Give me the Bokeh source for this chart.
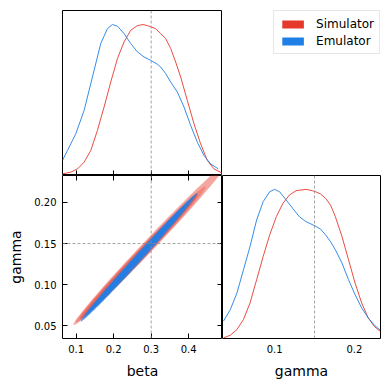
import numpy as np
from bokeh.plotting import figure
from bokeh.models import LinearAxis, FixedTicker, Range1d, Span, Legend, LegendItem
from bokeh.layouts import gridplot
from bokeh.embed import file_html
from bokeh.resources import INLINE

RED = "#E6392B"
BLUE = "#1F7FE6"
FONT = "DejaVu Sans"

# ---- data ----
beta_true = 0.3
gamma_true = 0.15

beta_tick_vals = [0.1, 0.2, 0.3, 0.4]
beta_tick_labels = ["0.1", "0.2", "0.3", "0.4"]
gamma_tick_vals = [0.05, 0.10, 0.15, 0.20]
gamma_tick_labels = ["0.05", "0.10", "0.15", "0.20"]
gamma_m_tick_vals = [0.1, 0.2]
gamma_m_tick_labels = ["0.1", "0.2"]

# beta marginal (normalised density)
beta_emu_x = [0.0638, 0.0771, 0.0993, 0.1214, 0.1436, 0.1657, 0.1835, 0.1968, 0.2101, 0.2278,
              0.2455, 0.2633, 0.2810, 0.2987, 0.3165, 0.3253, 0.3386, 0.3520, 0.3697, 0.3874,
              0.4051, 0.4229, 0.4406, 0.4583, 0.4787]
beta_emu_d = [0.100, 0.166, 0.277, 0.431, 0.653, 0.874, 0.973, 1.000, 0.989, 0.940,
              0.874, 0.819, 0.785, 0.763, 0.737, 0.719, 0.675, 0.619, 0.553, 0.454,
              0.332, 0.221, 0.133, 0.077, 0.044]
beta_sim_x = [0.0638, 0.0860, 0.1037, 0.1214, 0.1392, 0.1569, 0.1746, 0.1923, 0.2101, 0.2278,
              0.2455, 0.2633, 0.2783, 0.2899, 0.2987, 0.3120, 0.3253, 0.3386, 0.3520, 0.3652,
              0.3785, 0.3962, 0.4140, 0.4317, 0.4494, 0.4672, 0.4894]
beta_sim_d = [0.011, 0.022, 0.044, 0.088, 0.166, 0.299, 0.454, 0.619, 0.774, 0.885,
              0.962, 0.993, 1.000, 0.993, 0.985, 0.973, 0.940, 0.907, 0.841, 0.752,
              0.653, 0.498, 0.343, 0.210, 0.100, 0.044, 0.015]

# gamma marginal (normalised density)
gamma_emu_x = [0.0358, 0.0444, 0.0527, 0.0609, 0.0691, 0.0774, 0.0856, 0.0938, 0.1000, 0.1062,
               0.1144, 0.1226, 0.1309, 0.1391, 0.1506, 0.1576, 0.1638, 0.1700, 0.1761, 0.1844,
               0.1926, 0.2008, 0.2091, 0.2173, 0.2255, 0.2325]
gamma_emu_d = [0.116, 0.194, 0.305, 0.461, 0.617, 0.795, 0.918, 0.984, 1.000, 0.984,
               0.929, 0.873, 0.817, 0.784, 0.755, 0.733, 0.695, 0.650, 0.595, 0.506,
               0.394, 0.294, 0.205, 0.138, 0.087, 0.056]
gamma_sim_x = [0.0358, 0.0444, 0.0527, 0.0609, 0.0691, 0.0774, 0.0856, 0.0938, 0.1021, 0.1103,
               0.1185, 0.1267, 0.1391, 0.1473, 0.1514, 0.1576, 0.1638, 0.1700, 0.1761, 0.1844,
               0.1926, 0.2008, 0.2091, 0.2173, 0.2255, 0.2325]
gamma_sim_d = [0.004, 0.022, 0.060, 0.127, 0.238, 0.394, 0.550, 0.695, 0.817, 0.906,
               0.962, 0.991, 1.000, 0.991, 0.984, 0.969, 0.940, 0.895, 0.817, 0.684,
               0.528, 0.372, 0.238, 0.138, 0.078, 0.047]

# 2D credible regions: (beta_lo, gamma_lo, beta_hi, gamma_hi, half-width in gamma)
sim_levels = [(0.093, 0.0515, 0.500, 0.246, 0.0102),
              (0.100, 0.0545, 0.445, 0.219, 0.0088),
              (0.110, 0.0585, 0.425, 0.210, 0.0076)]
sim_alphas = [0.45, 0.3, 0.45]
emu_levels = [(0.112, 0.0556, 0.423, 0.211, 0.0070),
              (0.120, 0.0600, 0.413, 0.206, 0.0056),
              (0.128, 0.0640, 0.390, 0.195, 0.0040)]
emu_alphas = [0.7, 0.6, 0.85]

BETA_RANGE = (0.0638, 0.49)
GAMMA_RANGE = (0.0346, 0.2327)
DENS_RANGE = (0.0, 1.093)


def region(lo_x, lo_y, hi_x, hi_y, h, n=120):
    t = np.linspace(0, 2 * np.pi, n)
    cx, cy = (lo_x + hi_x) / 2, (lo_y + hi_y) / 2
    ax, ay = (hi_x - lo_x) / 2, (hi_y - lo_y) / 2
    return cx + ax * np.cos(t), cy + ay * np.cos(t) + h * np.sin(t)


def base_fig(w, h, xr, yr, bl, br, bt, bb):
    p = figure(width=w, height=h, x_range=Range1d(*xr), y_range=Range1d(*yr),
               x_axis_location=None, y_axis_location=None, toolbar_location=None,
               output_backend="svg", min_border_left=bl, min_border_right=br,
               min_border_top=bt, min_border_bottom=bb)
    p.outline_line_color = "black"
    p.outline_line_width = 1
    p.background_fill_color = "white"
    p.border_fill_color = "white"
    p.xgrid.grid_line_color = None
    p.ygrid.grid_line_color = None
    return p


def style_axis(ax, ticks, labels=None, tick_in=5, show_labels=True):
    ax.ticker = FixedTicker(ticks=ticks)
    ax.major_tick_in = tick_in
    ax.major_tick_out = 0
    ax.major_tick_line_color = "black" if tick_in > 0 else None
    ax.minor_tick_line_color = None
    ax.axis_line_color = None
    if show_labels:
        ax.major_label_overrides = {t: l for t, l in zip(ticks, labels)}
        ax.major_label_text_font = FONT
        ax.major_label_text_font_size = "10px"
        ax.major_label_text_color = "black"
        ax.major_label_standoff = 6
    else:
        ax.major_label_text_font_size = "0px"
        ax.major_label_standoff = 0
    ax.axis_label_text_font = FONT
    ax.axis_label_text_font_size = "14px"
    ax.axis_label_text_font_style = "normal"
    ax.axis_label_text_color = "black"
    ax.axis_label_standoff = 7


GRAY = "#8c8c8c"

# ---- top-left: beta marginal ----
p1 = base_fig(222, 175, BETA_RANGE, DENS_RANGE, 62, 0, 10, 0)
ax = LinearAxis(fixed_location=DENS_RANGE[0])
style_axis(ax, beta_tick_vals, show_labels=False)
p1.add_layout(ax, "below")
p1.add_layout(Span(location=beta_true, dimension="height", line_color=GRAY,
                   line_width=0.8, line_dash="3 2"))
p1.line(beta_sim_x, beta_sim_d, line_color=RED, line_width=0.9)
p1.line(beta_emu_x, beta_emu_d, line_color=BLUE, line_width=0.9)

# ---- bottom-left: joint ----
p2 = base_fig(222, 206, BETA_RANGE, GAMMA_RANGE, 62, 0, 0, 42)
for lvl, a in zip(sim_levels, sim_alphas):
    xs, ys = region(*lvl)
    p2.patch(xs, ys, fill_color=RED, fill_alpha=a, line_color=None)
for lvl, a in zip(emu_levels, emu_alphas):
    xs, ys = region(*lvl)
    p2.patch(xs, ys, fill_color=BLUE, fill_alpha=a, line_color=None)
p2.add_layout(Span(location=beta_true, dimension="height", line_color=GRAY,
                   line_width=0.8, line_dash="3 2"))
p2.add_layout(Span(location=gamma_true, dimension="width", line_color=GRAY,
                   line_width=0.8, line_dash="3 2"))
bx = LinearAxis(axis_label="beta")
style_axis(bx, beta_tick_vals, beta_tick_labels)
p2.add_layout(bx, "below")
ly = LinearAxis(axis_label="gamma")
style_axis(ly, gamma_tick_vals, gamma_tick_labels)
p2.add_layout(ly, "left")
tx = LinearAxis(fixed_location=GAMMA_RANGE[1])
style_axis(tx, beta_tick_vals, show_labels=False)
p2.add_layout(tx, "above")
ry = LinearAxis(fixed_location=BETA_RANGE[1])
style_axis(ry, gamma_tick_vals, show_labels=False)
p2.add_layout(ry, "right")

# ---- bottom-right: gamma marginal ----
p3 = base_fig(160, 206, GAMMA_RANGE, DENS_RANGE, 0, 1, 0, 42)
p3.add_layout(Span(location=gamma_true, dimension="height", line_color=GRAY,
                   line_width=0.8, line_dash="3 2"))
p3.line(gamma_sim_x, gamma_sim_d, line_color=RED, line_width=0.9)
p3.line(gamma_emu_x, gamma_emu_d, line_color=BLUE, line_width=0.9)
gx = LinearAxis(axis_label="gamma")
style_axis(gx, gamma_m_tick_vals, gamma_m_tick_labels, tick_in=0)
p3.add_layout(gx, "below")

# ---- top-right: legend ----
pl = figure(width=160, height=175, x_range=Range1d(0, 1), y_range=Range1d(0, 1),
            x_axis_location=None, y_axis_location=None, toolbar_location=None,
            output_backend="svg", min_border_left=0, min_border_right=2,
            min_border_top=10, min_border_bottom=0)
pl.outline_line_color = None
pl.xgrid.grid_line_color = None
pl.ygrid.grid_line_color = None
nan = [np.nan]
r_sim = pl.quad(left=nan, right=nan, top=nan, bottom=nan, fill_color=RED, line_color=None)
r_emu = pl.quad(left=nan, right=nan, top=nan, bottom=nan, fill_color=BLUE, line_color=None)
leg = Legend(items=[LegendItem(label="Simulator", renderers=[r_sim]),
                    LegendItem(label="Emulator", renderers=[r_emu])],
             location="top_right")
leg.margin = 0
leg.padding = 5
leg.spacing = 2
leg.glyph_width = 27
leg.glyph_height = 10
leg.label_height = 15
leg.label_standoff = 10
leg.label_text_font = FONT
leg.label_text_font_size = "12px"
leg.label_text_color = "black"
leg.border_line_color = "#cccccc"
leg.border_line_width = 1
leg.background_fill_alpha = 0.8
pl.add_layout(leg)

grid = gridplot([[p1, pl], [p2, p3]], toolbar_location=None)
open("out.html", "w").write(file_html(grid, INLINE))
